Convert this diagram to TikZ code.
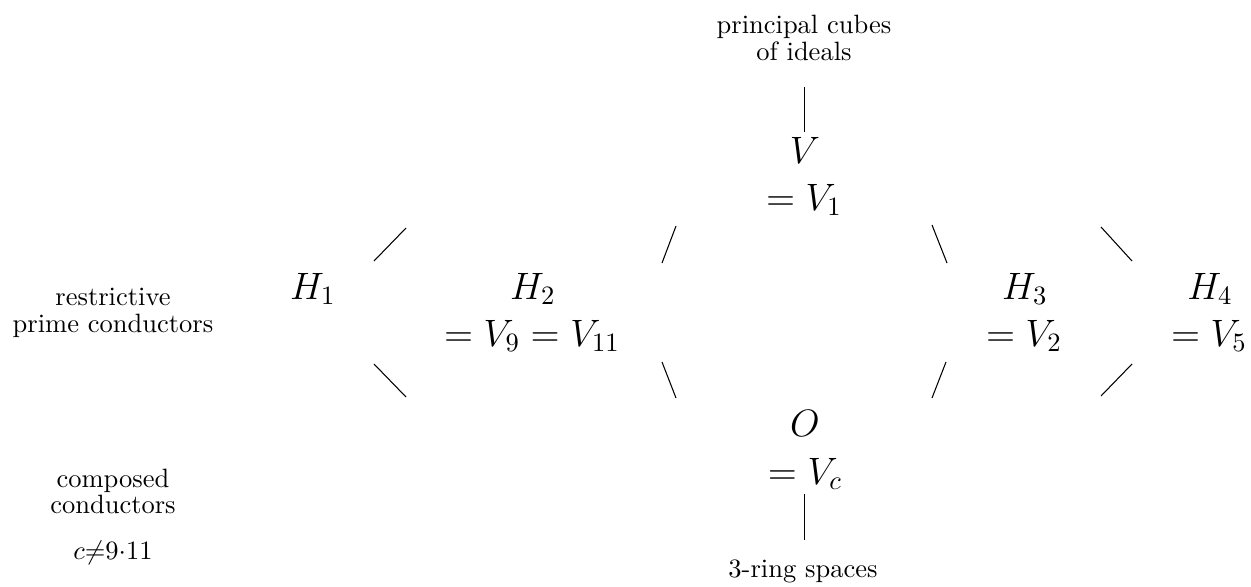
\documentclass[tikz,border=0pt]{standalone}
\usepackage{amsmath}
\begin{document}
\begin{tikzpicture}[x=0.37736pt,y=-0.37736pt,
  lbl/.style={font=\fontsize{10}{12}\selectfont, inner sep=0pt, anchor=base},
  obj/.style={font=\Large, inner sep=0pt, anchor=base},
  conn/.style={line width=0.4pt}]
\useasboundingbox (0,0) rectangle (1251,586);
% top
\node[lbl] (pc1) at (804,33) {principal cubes};
\node[lbl] (pc2) at (804,60) {of ideals};
\node[obj] (V) at (805,163) {$V$};
\node[obj] (V1) at (804,210) {$=V_1$};
% middle row
\node[lbl] (rp1) at (113,305) {restrictive};
\node[lbl] (rp2) at (113,332) {prime conductors};
\node[obj] (H1) at (313,299) {$H_1$};
\node[obj] (H2) at (533,299) {$H_2$};
\node[obj] (H2b) at (532,346) {$=V_9=V_{11}$};
\node[obj] (H3) at (1025,299) {$H_3$};
\node[obj] (H3b) at (1024,346) {$=V_2$};
\node[obj] (H4) at (1210,299) {$H_4$};
\node[obj] (H4b) at (1209,346) {$=V_5$};
% bottom
\node[obj] (O) at (805,436) {$O$};
\node[obj] (Ob) at (805,484) {$=V_c$};
\node[lbl] (cc1) at (113,487) {composed};
\node[lbl] (cc2) at (113,513) {conductors};
\node[lbl] (cc3) at (113,559) {$c{\neq}9{\cdot}11$};
\node[lbl] (rs) at (803,577) {3-ring spaces};
% connector end points
\coordinate (t1) at (804.5,87);   \coordinate (t2) at (804.5,132);
\coordinate (b1) at (804.5,494);  \coordinate (b2) at (804.5,540);
\coordinate (a1) at (374,261);  \coordinate (a2) at (406,228);
\coordinate (a3) at (374,364);  \coordinate (a4) at (406,397);
\coordinate (c1) at (662,263);  \coordinate (c2) at (676,226);
\coordinate (c3) at (662,362);  \coordinate (c4) at (676,398);
\coordinate (d1) at (932,225);  \coordinate (d2) at (947,263);
\coordinate (d3) at (946,362);  \coordinate (d4) at (932,398);
\coordinate (e1) at (1101,227); \coordinate (e2) at (1132,261);
\coordinate (e3) at (1132,364); \coordinate (e4) at (1101,396);
\draw[conn] (t1) -- (t2);
\draw[conn] (b1) -- (b2);
\draw[conn] (a1) -- (a2);
\draw[conn] (a3) -- (a4);
\draw[conn] (c1) -- (c2);
\draw[conn] (c3) -- (c4);
\draw[conn] (d1) -- (d2);
\draw[conn] (d3) -- (d4);
\draw[conn] (e1) -- (e2);
\draw[conn] (e3) -- (e4);
\end{tikzpicture}
\end{document}
